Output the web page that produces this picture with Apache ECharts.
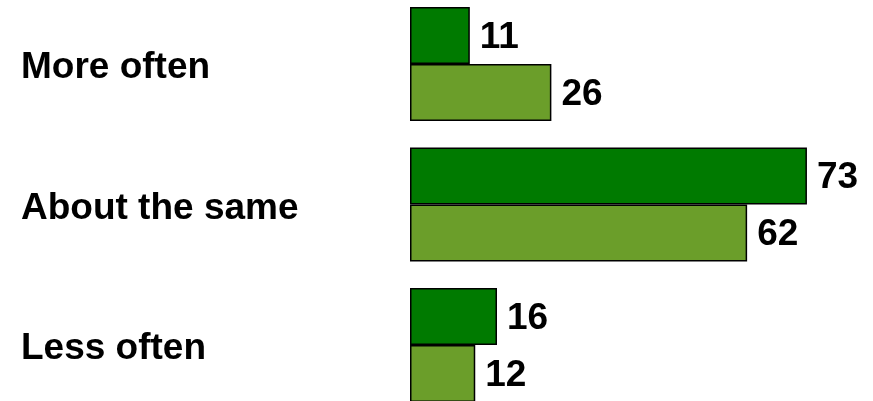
<!DOCTYPE html>
<html><head><meta charset="utf-8">
<script src="https://cdn.jsdelivr.net/npm/echarts@6/dist/echarts.min.js"></script>
<style>html,body{margin:0;padding:0;background:#fff}#c{width:873px;height:401px}</style>
</head><body><div id="c"></div>
<script>
const categories = ['More often', 'About the same', 'Less often'];
const seriesA = [11, 73, 16];
const seriesB = [26, 62, 12];
const chart = echarts.init(document.getElementById('c'), null, {renderer: 'canvas'});
const font = '"Liberation Sans", Arial, sans-serif';
const labelStyle = {show: true, position: 'right', distance: 10, offset: [0, 2], color: '#000', fontWeight: 'bold', fontSize: 37, fontFamily: font};
chart.setOption({
  animation: false,
  grid: {left: 410, width: 435, top: 64, height: 281},
  xAxis: {type: 'value', min: 0, max: 80, show: false},
  yAxis: {type: 'category', data: categories, inverse: true, boundaryGap: false,
    axisLine: {show: false}, axisTick: {show: false}, splitLine: {show: false},
    axisLabel: {align: 'left', margin: 389, formatter: '{a|{value}}',
      rich: {a: {padding: [8, 0, 0, 0], color: '#000', fontWeight: 'bold', fontSize: 37, fontFamily: font}},
      color: '#000', fontWeight: 'bold', fontSize: 37, fontFamily: font}},
  series: [
    {type: 'bar', data: seriesA, barWidth: 57, barGap: '0%', clip: false, itemStyle: {color: '#007A00', borderColor: '#000', borderWidth: 1.5}, label: labelStyle},
    {type: 'bar', data: seriesB, barWidth: 57, barGap: '0%', clip: false, itemStyle: {color: '#6B9E2A', borderColor: '#000', borderWidth: 1.5}, label: labelStyle}
  ]
});
</script></body></html>
